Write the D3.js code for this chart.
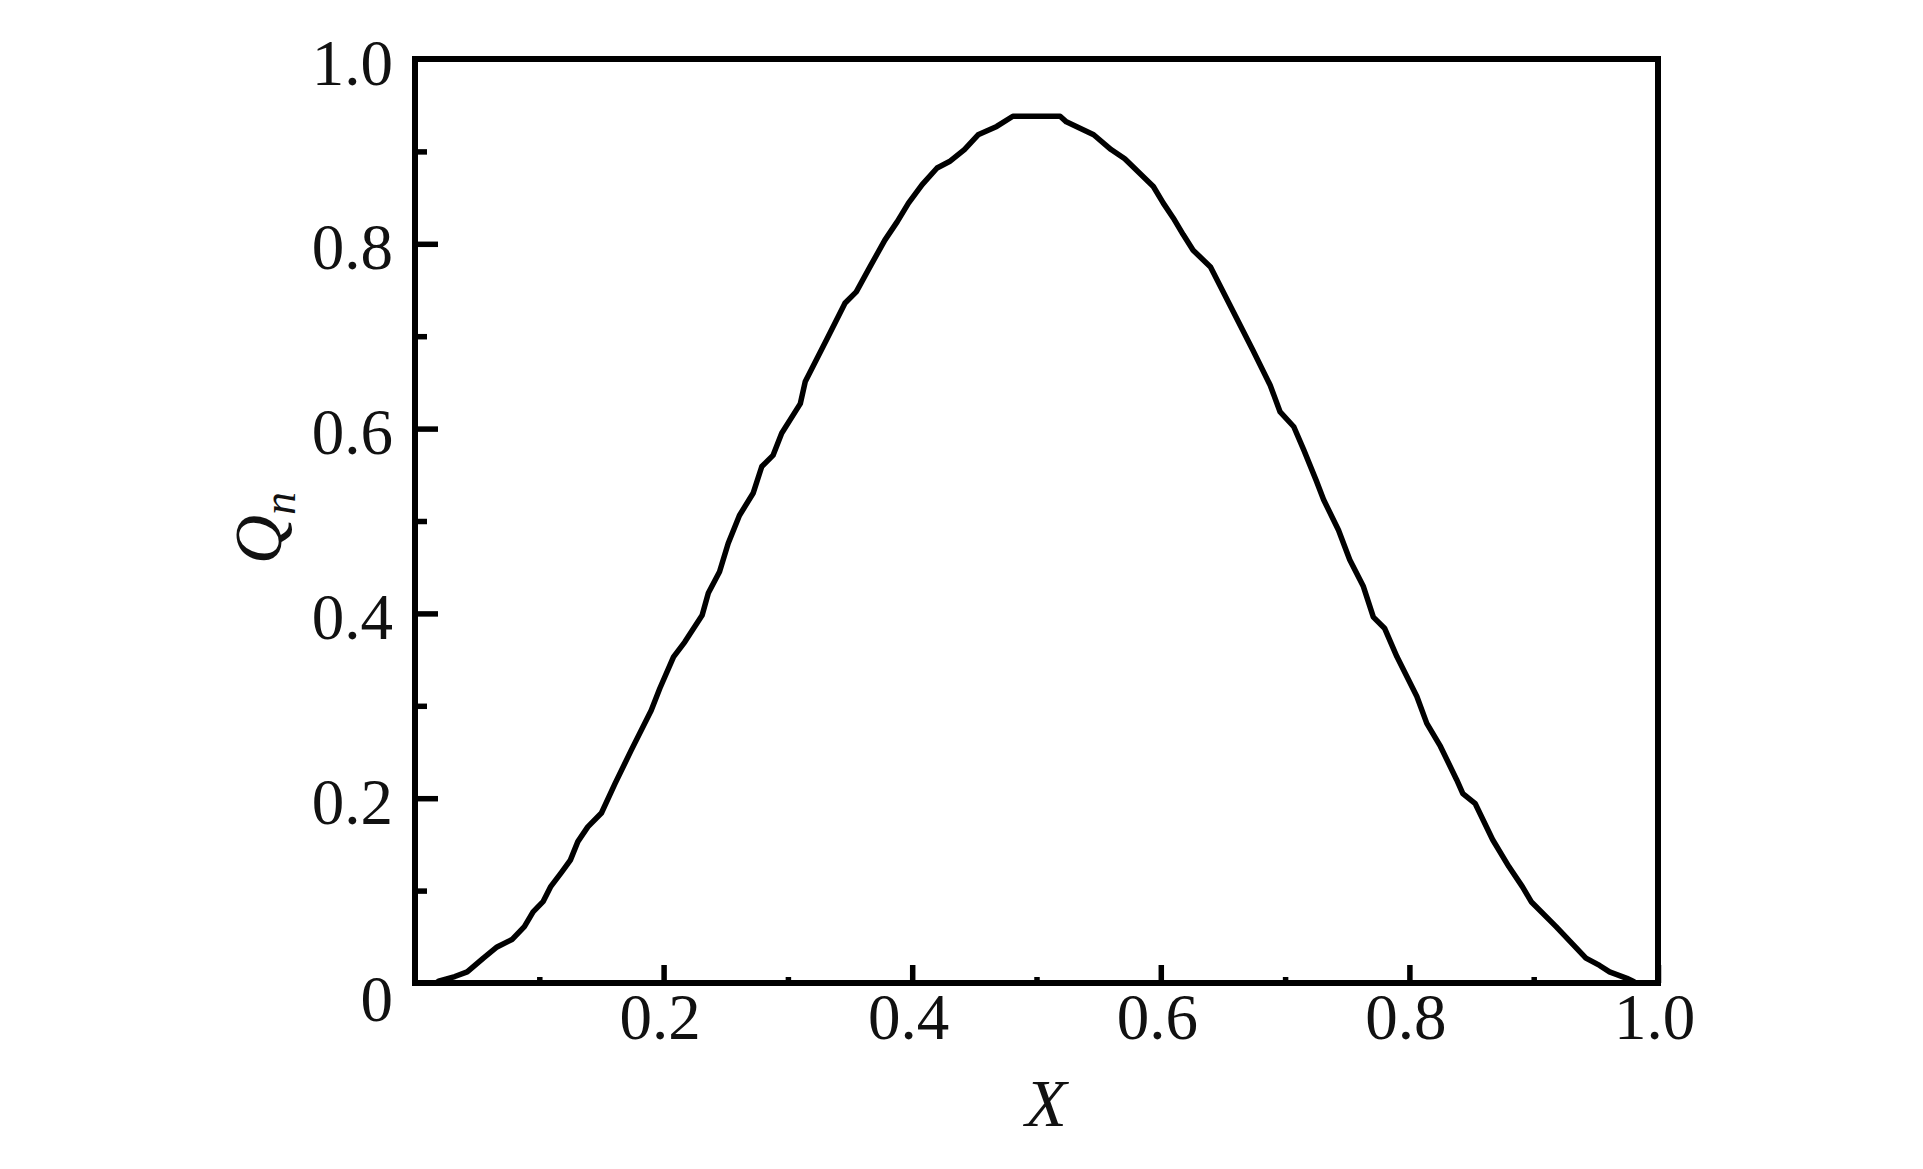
<!DOCTYPE html>
<html>
<head>
<meta charset="utf-8">
<script src="https://cdn.jsdelivr.net/npm/d3@7"></script>
<style>
  html, body { margin: 0; padding: 0; background: #fff; }
  svg { display: block; }
</style>
</head>
<body>
<script>
// ---- data ----
const xValues = [0.017,0.019,0.032,0.042,0.055,0.066,0.078,0.088,0.095,0.103,0.109,0.118,0.125,0.131,0.139,0.150,0.161,0.174,0.190,0.197,0.208,0.217,0.231,0.236,0.245,0.252,0.261,0.272,0.279,0.288,0.295,0.310,0.314,0.331,0.346,0.355,0.366,0.378,0.388,0.397,0.408,0.420,0.430,0.442,0.453,0.468,0.481,0.519,0.524,0.546,0.560,0.571,0.594,0.602,0.610,0.618,0.626,0.640,0.674,0.688,0.696,0.707,0.715,0.725,0.731,0.743,0.752,0.763,0.771,0.780,0.790,0.806,0.814,0.825,0.838,0.843,0.853,0.867,0.880,0.891,0.898,0.918,0.942,0.953,0.961,0.975,0.980,0.982];
const qValues = [0,0.002,0.007,0.012,0.027,0.039,0.047,0.061,0.077,0.088,0.104,0.120,0.133,0.153,0.169,0.184,0.216,0.252,0.295,0.319,0.353,0.369,0.398,0.422,0.445,0.476,0.506,0.530,0.559,0.571,0.595,0.627,0.651,0.696,0.736,0.748,0.775,0.804,0.824,0.844,0.864,0.882,0.889,0.902,0.918,0.927,0.938,0.938,0.932,0.918,0.902,0.892,0.862,0.844,0.828,0.810,0.793,0.775,0.685,0.647,0.618,0.602,0.577,0.544,0.523,0.490,0.458,0.429,0.396,0.384,0.353,0.310,0.281,0.256,0.220,0.205,0.194,0.155,0.126,0.104,0.088,0.061,0.027,0.019,0.012,0.005,0.002,0];
const xTickLabels = [0.2, 0.4, 0.6, 0.8, 1.0];
const xMinorTicks = [0.1, 0.3, 0.5, 0.7, 0.9];
const yTickLabels = [0, 0.2, 0.4, 0.6, 0.8, 1.0];
const yMajorTicks = [0.2, 0.4, 0.6, 0.8];
const yMinorTicks = [0.1, 0.3, 0.5, 0.7, 0.9];
const xTitle = "X";
const yTitleMain = "Q";
const yTitleSub = "n";

// ---- layout ----
const W = 1923, H = 1169;
const L = 415, R = 1658, T = 59, B = 983;
const font = "'Liberation Serif', 'DejaVu Serif', serif";

const svg = d3.select("body").append("svg").attr("width", W).attr("height", H);

const x = d3.scaleLinear().domain([0, 1]).range([L, R]);
const y = d3.scaleLinear().domain([0, 1]).range([B, T]);

// ticks (inward)
const gx = svg.append("g").attr("transform", `translate(0,${B})`)
  .call(d3.axisBottom(x).tickValues(xTickLabels).tickSize(-18).tickSizeOuter(0)
    .tickFormat(d3.format(".1f")));
gx.select(".domain").remove();
gx.selectAll(".tick line").attr("stroke", "#000").attr("stroke-width", 5.5);
gx.selectAll(".tick text").attr("y", 56).attr("dy", 0).attr("x", -4)
  .attr("font-family", font).attr("font-size", 65).attr("fill", "#111");

const gxm = svg.append("g").attr("transform", `translate(0,${B})`)
  .call(d3.axisBottom(x).tickValues(xMinorTicks).tickSize(-6).tickSizeOuter(0).tickFormat(""));
gxm.select(".domain").remove();
gxm.selectAll(".tick line").attr("stroke", "#000").attr("stroke-width", 5.5);

const gy = svg.append("g").attr("transform", `translate(${L},0)`)
  .call(d3.axisLeft(y).tickValues(yTickLabels).tickSize(0).tickSizeOuter(0)
    .tickFormat(d => d === 0 ? "0" : d3.format(".1f")(d)));
gy.select(".domain").remove();
gy.selectAll(".tick text").attr("x", -22).attr("dy", 0)
  .attr("y", d => d === 0 ? 37 : 25)
  .attr("text-anchor", "end")
  .attr("font-family", font).attr("font-size", 65).attr("fill", "#111");

const gyM = svg.append("g").attr("transform", `translate(${L},0)`)
  .call(d3.axisRight(y).tickValues(yMajorTicks).tickSize(23).tickSizeOuter(0).tickFormat(""));
gyM.select(".domain").remove();
gyM.selectAll(".tick line").attr("stroke", "#000").attr("stroke-width", 5.5);

const gym = svg.append("g").attr("transform", `translate(${L},0)`)
  .call(d3.axisRight(y).tickValues(yMinorTicks).tickSize(12).tickSizeOuter(0).tickFormat(""));
gym.select(".domain").remove();
gym.selectAll(".tick line").attr("stroke", "#000").attr("stroke-width", 5.5);

// curve
const pts = xValues.map((v, i) => [v, qValues[i]]);
svg.append("path")
  .datum(pts)
  .attr("fill", "none")
  .attr("stroke", "#000")
  .attr("stroke-width", 5.5)
  .attr("stroke-linejoin", "round")
  .attr("stroke-linecap", "round")
  .attr("d", d3.line().x(d => x(d[0])).y(d => y(d[1])));

// frame
svg.append("rect")
  .attr("x", L).attr("y", T).attr("width", R - L).attr("height", B - T)
  .attr("fill", "none").attr("stroke", "#000").attr("stroke-width", 6);

// axis titles
svg.append("text")
  .attr("x", 1046).attr("y", 1126)
  .attr("text-anchor", "middle")
  .attr("font-family", font).attr("font-style", "italic").attr("font-size", 68)
  .attr("fill", "#111")
  .text(xTitle);

const yt = svg.append("text")
  .attr("transform", "translate(281,528) rotate(-90)")
  .attr("text-anchor", "middle")
  .attr("font-family", font).attr("font-style", "italic").attr("font-size", 68)
  .attr("fill", "#111");
yt.append("tspan").text(yTitleMain);
yt.append("tspan").attr("dy", 14).attr("font-size", 46).text(yTitleSub);
</script>
</body>
</html>
